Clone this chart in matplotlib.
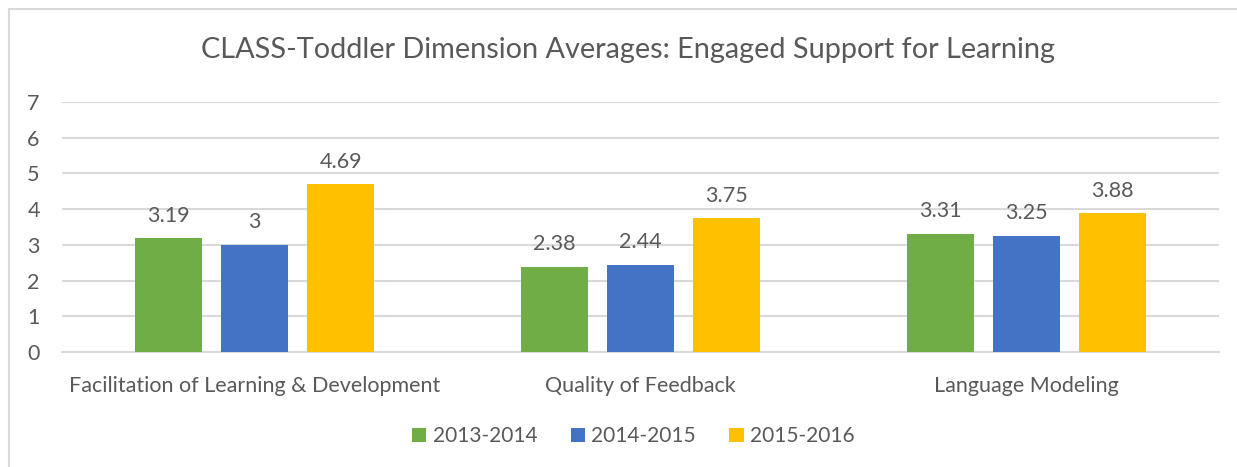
import numpy as np
import matplotlib
matplotlib.use("Agg")
import matplotlib.pyplot as plt
from matplotlib.patches import Rectangle

categories = ["Facilitation of Learning & Development", "Quality of Feedback", "Language Modeling"]
years = ["2013-2014", "2014-2015", "2015-2016"]
values_2013 = [3.19, 2.38, 3.31]
values_2014 = [3.00, 2.44, 3.25]
values_2015 = [4.69, 3.75, 3.88]
labels_2013 = ["3.19", "2.38", "3.31"]
labels_2014 = ["3", "2.44", "3.25"]
labels_2015 = ["4.69", "3.75", "3.88"]
colors = ["#70AD47", "#4472C4", "#FFC000"]

plt.rcParams['font.family'] = ['Lato', 'DejaVu Sans']
text_color = "#595959"
grid_color = "#D9D9D9"

fig = plt.figure(figsize=(12.37, 4.67), dpi=100)
ax = fig.add_axes([0.0501, 0.2463, 0.9354, 0.5353])

x = np.arange(len(categories))
width = 0.174
step = 0.223
series = [values_2013, values_2014, values_2015]
labels = [labels_2013, labels_2014, labels_2015]
for i, (vals, labs) in enumerate(zip(series, labels)):
    pos = x + (i - 1) * step
    ax.bar(pos, vals, width, color=colors[i], label=years[i], zorder=3)
    for p, v, t in zip(pos, vals, labs):
        ax.text(p, v + 0.35, t, ha='center', va='bottom', fontsize=15.5, color=text_color)

ax.set_xlim(-0.5, 2.5)
ax.set_ylim(0, 7)
ax.set_yticks(range(8))
ax.yaxis.grid(True, color=grid_color, linewidth=1.5, zorder=0)
ax.set_xticks(x)
ax.set_xticklabels(categories)
ax.tick_params(axis='both', length=0, labelsize=15.5, colors=text_color)
ax.tick_params(axis='x', pad=17)
ax.tick_params(axis='y', pad=25)
for lbl in ax.get_yticklabels():
    lbl.set_horizontalalignment('left')
for s in ['top', 'right', 'left']:
    ax.spines[s].set_visible(False)
ax.spines['bottom'].set_color(grid_color)
ax.spines['bottom'].set_linewidth(1.5)

fig.text(0.508, 0.893, "CLASS-Toddler Dimension Averages: Engaged Support for Learning",
         ha='center', va='center', fontsize=20.8, color=text_color)

leg = fig.legend(loc='center', bbox_to_anchor=(0.512, 0.066), ncol=3, frameon=False,
                 fontsize=15, handlelength=0.7, handleheight=0.7, handletextpad=0.3,
                 columnspacing=1.6)
for t in leg.get_texts():
    t.set_color(text_color)

fig.patches.append(Rectangle((9 / 1237, -0.05), 1.1, 1 - 9 / 467 + 0.05,
                             transform=fig.transFigure, fill=False,
                             edgecolor=grid_color, linewidth=1.5))

fig.savefig("out.png", dpi=100)
